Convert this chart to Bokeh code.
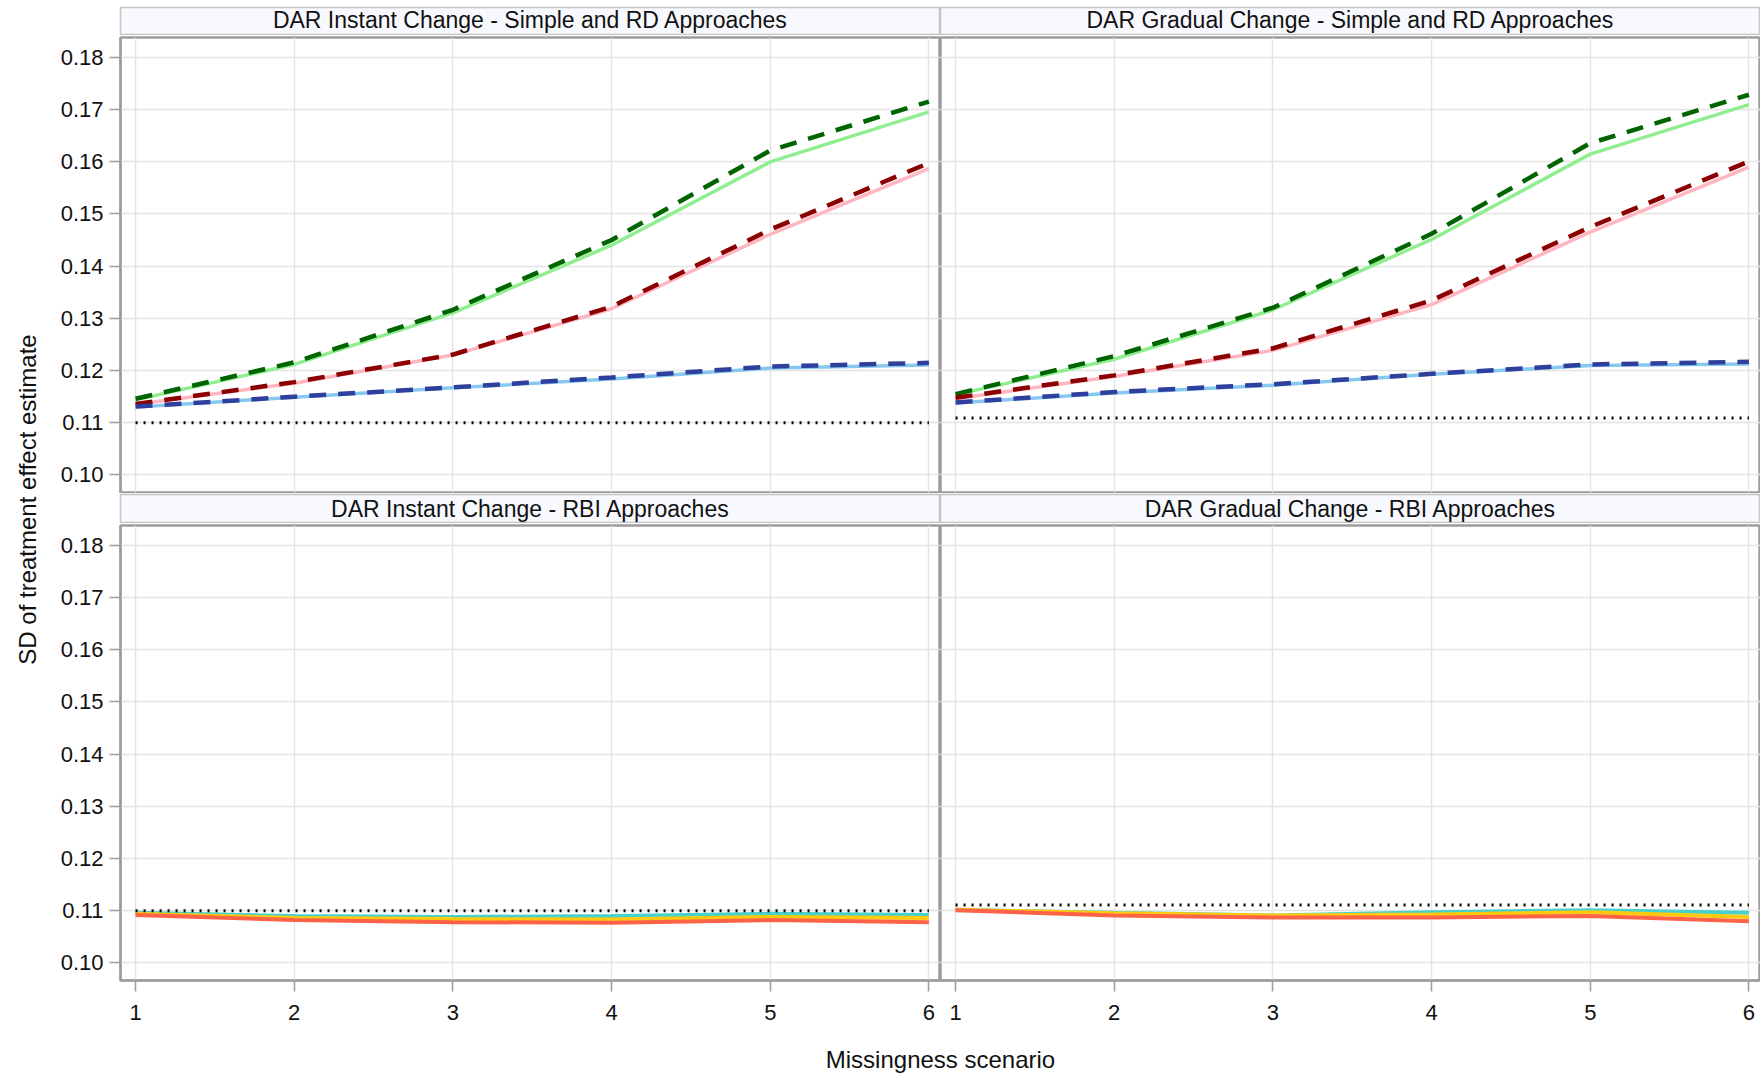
import math
from bokeh.plotting import figure
from bokeh.models import Range1d, FixedTicker, NumeralTickFormatter
from bokeh.layouts import row, column
from bokeh.embed import file_html
from bokeh.resources import INLINE
from bokeh.core.properties import value

# ---------------- data ----------------
scenario = [1, 2, 3, 4, 5, 6]
y_ticks = [0.10, 0.11, 0.12, 0.13, 0.14, 0.15, 0.16, 0.17, 0.18]
x_ticks = [1, 2, 3, 4, 5, 6]

titles = [
    "DAR Instant Change - Simple and RD Approaches",
    "DAR Gradual Change - Simple and RD Approaches",
    "DAR Instant Change - RBI Approaches",
    "DAR Gradual Change - RBI Approaches",
]

# Instant change, simple and RD approaches
inst_green_solid = [0.1143, 0.1211, 0.1310, 0.1440, 0.1600, 0.1696]
inst_green_dash = [0.1145, 0.1215, 0.1316, 0.1450, 0.1622, 0.1716]
inst_pink_solid = [0.1134, 0.1175, 0.1229, 0.1318, 0.1461, 0.1587]
inst_red_dash = [0.1135, 0.1177, 0.1230, 0.1322, 0.1470, 0.1598]
inst_ltblue_solid = [0.1129, 0.1148, 0.1166, 0.1183, 0.1204, 0.1210]
inst_blue_dash = [0.1130, 0.1149, 0.1167, 0.1186, 0.1207, 0.1214]
inst_ref = [0.1099, 0.1099, 0.1099, 0.1099, 0.1099, 0.1099]

# Gradual change, simple and RD approaches
grad_green_solid = [0.1153, 0.1221, 0.1316, 0.1451, 0.1615, 0.1710]
grad_green_dash = [0.1154, 0.1227, 0.1320, 0.1462, 0.1636, 0.1729]
grad_pink_solid = [0.1145, 0.1188, 0.1238, 0.1326, 0.1465, 0.1590]
grad_red_dash = [0.1147, 0.1190, 0.1242, 0.1334, 0.1475, 0.1601]
grad_ltblue_solid = [0.1137, 0.1156, 0.1171, 0.1192, 0.1209, 0.1212]
grad_blue_dash = [0.1138, 0.1158, 0.1173, 0.1193, 0.1211, 0.1216]
grad_ref = [0.1108, 0.1108, 0.1108, 0.1108, 0.1108, 0.1108]

# Instant change, RBI approaches
inst_rbi_turq = [0.1095, 0.1089, 0.1087, 0.1089, 0.1093, 0.1091]
inst_rbi_gold = [0.1093, 0.1085, 0.1083, 0.1082, 0.1087, 0.1085]
inst_rbi_tomato = [0.1091, 0.1081, 0.1077, 0.1076, 0.1081, 0.1077]
inst_rbi_ref = [0.1099, 0.1099, 0.1099, 0.1099, 0.1099, 0.1099]

# Gradual change, RBI approaches
grad_rbi_turq = [0.1101, 0.1095, 0.1090, 0.1096, 0.1100, 0.1095]
grad_rbi_gold = [0.1101, 0.1094, 0.1090, 0.1092, 0.1096, 0.1087]
grad_rbi_tomato = [0.1100, 0.1090, 0.1086, 0.1086, 0.1089, 0.1079]
grad_rbi_ref = [0.1110, 0.1110, 0.1110, 0.1110, 0.1110, 0.1110]

# ---------------- style ----------------
FONT_NAME = "Liberation Sans"
FONT = value(FONT_NAME)
FRAME_W = 820
FRAME_H = 455
YAX_W = 72
YLAB_W = 48
FRAME_GREY = "#9C9C9C"
GRID_GREY = "#E4E4E4"
HEAD_FILL = "#F7F9FE"
HEAD_LINE = "#C4C4C4"
TEXT_COL = "#111111"
X_RANGE = (0.905, 6.073)
Y_RANGE = (0.0965, 0.1839)
DASH = "17 12"
DOT = "2 6"


def header(text, left, height, top_pad, ty):
    w = FRAME_W + (YAX_W if left else 0)
    h = figure(width=w, height=height + top_pad, x_range=Range1d(0, 1), y_range=Range1d(0, 1),
               output_backend="svg", toolbar_location=None,
               x_axis_location=None, y_axis_location=None,
               min_border_left=YAX_W if left else 0, min_border_right=0,
               min_border_top=top_pad, min_border_bottom=0)
    h.grid.visible = False
    h.background_fill_color = HEAD_FILL
    h.border_fill_color = "white"
    h.outline_line_color = HEAD_LINE
    h.outline_line_width = 1.5
    h.text(x=[0.5], y=[ty], text=[text], text_align="center", text_baseline="middle",
           text_font=FONT, text_font_size="23px", text_color=TEXT_COL)
    return h


def panel(left, bottom):
    w = FRAME_W + (YAX_W if left else 0)
    top_b = 2
    bot_b = 52 if bottom else 1
    p = figure(width=w, height=FRAME_H + top_b + bot_b,
               x_range=Range1d(*X_RANGE), y_range=Range1d(*Y_RANGE),
               output_backend="svg", toolbar_location=None,
               x_axis_location="below" if bottom else None,
               y_axis_location="left" if left else None,
               min_border_left=YAX_W if left else 0, min_border_right=0,
               min_border_top=top_b, min_border_bottom=bot_b)
    p.background_fill_color = "white"
    p.border_fill_color = "white"
    p.outline_line_color = FRAME_GREY
    p.outline_line_width = 2.5
    p.xgrid.ticker = FixedTicker(ticks=x_ticks)
    p.ygrid.ticker = FixedTicker(ticks=y_ticks)
    p.grid.grid_line_color = GRID_GREY
    p.grid.grid_line_width = 1.5
    axes = []
    if left:
        axes += list(p.yaxis)
    if bottom:
        axes += list(p.xaxis)
    for ax in axes:
        ax.axis_line_color = FRAME_GREY
        ax.axis_line_width = 2
        ax.major_tick_line_color = FRAME_GREY
        ax.major_tick_line_width = 1.5
        ax.major_tick_out = 11
        ax.major_tick_in = 0
        ax.minor_tick_line_color = None
        ax.major_label_text_font = FONT_NAME
        ax.major_label_text_font_size = "22px"
        ax.major_label_text_color = TEXT_COL
    if left:
        p.yaxis.ticker = FixedTicker(ticks=y_ticks)
        p.yaxis.formatter = NumeralTickFormatter(format="0.00")
        p.yaxis.major_label_standoff = 6
    if bottom:
        p.xaxis.ticker = FixedTicker(ticks=x_ticks)
        p.xaxis.major_label_standoff = 13
    return p


def simple_panel(p, gs, gd, ps, rd, bs, bd, ref):
    p.line(scenario, gs, line_color="#90EE90", line_width=3.5)
    p.line(scenario, ps, line_color="#FFB6C1", line_width=3.5)
    p.line(scenario, bs, line_color="#87C8F0", line_width=3.5)
    p.line(scenario, gd, line_color="#006400", line_width=4.5, line_dash=DASH)
    p.line(scenario, rd, line_color="#8B0000", line_width=4.5, line_dash=DASH)
    p.line(scenario, bd, line_color="#2E3F9C", line_width=4.5, line_dash=DASH)
    p.line(scenario, ref, line_color="black", line_width=3, line_dash=DOT)


def rbi_panel(p, tq, gd, tm, ref):
    p.line(scenario, tq, line_color="#48D1CC", line_width=4)
    p.line(scenario, gd, line_color="#FFC90E", line_width=4)
    p.line(scenario, tm, line_color="#FF6347", line_width=4)
    p.line(scenario, ref, line_color="black", line_width=3, line_dash=DOT)


TOP_PAD = 7
h_tl = header(titles[0], True, 28, TOP_PAD, 0.55)
h_tr = header(titles[1], False, 28, TOP_PAD, 0.55)
h_bl = header(titles[2], True, 29, 1, 0.5)
h_br = header(titles[3], False, 29, 1, 0.5)

p_tl = panel(True, False)
p_tr = panel(False, False)
p_bl = panel(True, True)
p_br = panel(False, True)

simple_panel(p_tl, inst_green_solid, inst_green_dash, inst_pink_solid, inst_red_dash,
             inst_ltblue_solid, inst_blue_dash, inst_ref)
simple_panel(p_tr, grad_green_solid, grad_green_dash, grad_pink_solid, grad_red_dash,
             grad_ltblue_solid, grad_blue_dash, grad_ref)
rbi_panel(p_bl, inst_rbi_turq, inst_rbi_gold, inst_rbi_tomato, inst_rbi_ref)
rbi_panel(p_br, grad_rbi_turq, grad_rbi_gold, grad_rbi_tomato, grad_rbi_ref)

grid_h = (28 + TOP_PAD) + (FRAME_H + 3) + 30 + (FRAME_H + 54)

# shared y-axis label
ylab = figure(width=YLAB_W, height=grid_h, x_range=Range1d(0, YLAB_W), y_range=Range1d(0, grid_h),
              output_backend="svg", toolbar_location=None,
              x_axis_location=None, y_axis_location=None,
              min_border=0)
ylab.grid.visible = False
ylab.outline_line_color = None
ylab.text(x=[27], y=[grid_h - 499], text=["SD of treatment effect estimate"], angle=math.pi / 2,
          text_align="center", text_baseline="middle", text_font=FONT,
          text_font_size="24px", text_color=TEXT_COL)

# shared x-axis label
xw = 2 * FRAME_W + YAX_W
XLAB_H = 42
xlab = figure(width=xw, height=XLAB_H, x_range=Range1d(0, xw), y_range=Range1d(0, XLAB_H),
              output_backend="svg", toolbar_location=None,
              x_axis_location=None, y_axis_location=None, min_border=0)
xlab.grid.visible = False
xlab.outline_line_color = None
xlab.text(x=[YAX_W + FRAME_W], y=[XLAB_H - 27], text=["Missingness scenario"],
          text_align="center", text_baseline="middle", text_font=FONT,
          text_font_size="24px", text_color=TEXT_COL)

panels = row(column(h_tl, p_tl, h_bl, p_bl), column(h_tr, p_tr, h_br, p_br))
layout = row(ylab, column(panels, xlab))

open("out.html", "w").write(file_html(layout, INLINE))
